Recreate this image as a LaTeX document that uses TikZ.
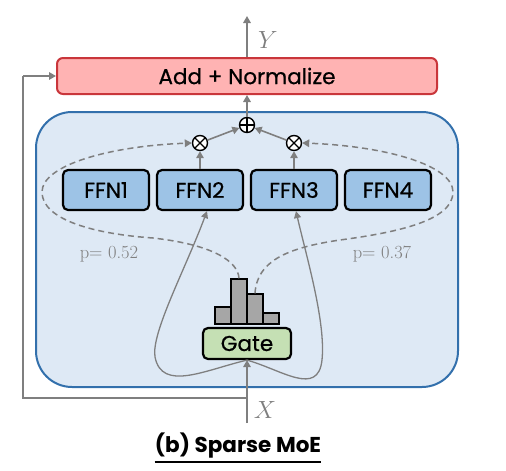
\documentclass[tikz,border=0pt]{standalone}
\usepackage{fontspec}
\newfontfamily\gothic[FakeBold=0.6]{Poppins}
\newfontfamily\gothicbold{Poppins}
\usetikzlibrary{arrows.meta,calc}
\definecolor{arrgray}{HTML}{7F7F7F}
\definecolor{addfill}{HTML}{FFB3B3}
\definecolor{adddraw}{HTML}{C9363B}
\definecolor{moefill}{HTML}{DEE9F5}
\definecolor{moedraw}{HTML}{3370AC}
\definecolor{ffnfill}{HTML}{9DC3E6}
\definecolor{gatefill}{HTML}{C5E0B4}
\definecolor{barfill}{HTML}{A6A6A6}
\begin{document}
\begin{tikzpicture}[x=1pt,y=-1pt,
  arr/.style={draw=arrgray,line width=1.6pt,-{Triangle[length=7pt,width=7.5pt]}},
  plainline/.style={draw=arrgray,line width=1.6pt},
  dashedarr/.style={draw=arrgray,line width=1.5pt,dash pattern=on 6pt off 4pt,-{Triangle[length=7pt,width=7.5pt]}},
  curvearr/.style={draw=arrgray,line width=1.3pt,-{Triangle[length=7pt,width=7pt]}},
  boxfont/.style={font=\gothic\fontsize{21.5}{21.5}\selectfont},
  ffnbox/.style={draw=black,fill=ffnfill,line width=2.2pt,rounded corners=5pt,minimum width=86pt,minimum height=40pt,inner sep=0pt,boxfont},
  barbox/.style={draw=black,fill=barfill,line width=1.4pt,inner sep=0pt,minimum width=16pt},
  opcircle/.style={circle,draw=black,fill=white,line width=1.4pt,minimum size=15pt,inner sep=0pt},
  varlabel/.style={text=arrgray,font=\fontsize{24}{24}\selectfont},
  plabel/.style={text=arrgray,font=\fontsize{18.5}{18.5}\selectfont}
]
\useasboundingbox (0,0) rectangle (506,471);
% big MoE container
\node[draw=moedraw,fill=moefill,line width=2pt,rounded corners=36pt,minimum width=422pt,minimum height=275pt,inner sep=0pt] (moe) at (247,249.5) {};
% Add + Normalize
\node[draw=adddraw,fill=addfill,line width=2pt,rounded corners=6pt,minimum width=380pt,minimum height=36pt,inner sep=0pt,boxfont] (add) at (247,76) {Add + Normalize};
% experts
\node[ffnbox] (ffn1) at (106,190) {FFN1};
\node[ffnbox] (ffn2) at (200,190) {FFN2};
\node[ffnbox] (ffn3) at (294,190) {FFN3};
\node[ffnbox] (ffn4) at (388,190) {FFN4};
% gate
\node[draw=black,fill=gatefill,line width=2.2pt,rounded corners=5pt,minimum width=88pt,minimum height=31pt,inner sep=0pt,boxfont] (gate) at (247,343.5) {Gate};
% histogram
\node[barbox,minimum height=17pt] (bar1) at (223,315.5) {};
\node[barbox,minimum height=45pt] (bar2) at (239,301.5) {};
\node[barbox,minimum height=30pt] (bar3) at (255,309) {};
\node[barbox,minimum height=11pt] (bar4) at (271,318.5) {};
% operators
\node[opcircle,path picture={\draw[line width=1.3pt] (path picture bounding box.north) -- (path picture bounding box.south) (path picture bounding box.west) -- (path picture bounding box.east);}] (oplus) at (247,125) {};
\node[opcircle,path picture={\draw[line width=1.3pt] (path picture bounding box.north west) -- (path picture bounding box.south east) (path picture bounding box.north east) -- (path picture bounding box.south west);}] (ot1) at (200,143) {};
\node[opcircle,path picture={\draw[line width=1.3pt] (path picture bounding box.north west) -- (path picture bounding box.south east) (path picture bounding box.north east) -- (path picture bounding box.south west);}] (ot2) at (294,143) {};
% labels
\node[varlabel] (ylab) at (268,40) {$Y$};
\node[varlabel] (xlab) at (265,410) {$X$};
\node[plabel] (p1) at (109,254) {p= 0.52};
\node[plabel] (p2) at (382,254) {p= 0.37};
\node[inner sep=0pt,font=\gothicbold\bfseries\fontsize{21.5}{21.5}\selectfont] (title) at (238,446) {(b) Sparse MoE};
\draw[line width=1.8pt] ([yshift=-9pt]title.base west) -- ([yshift=-9pt]title.base east);
% coordinates
\coordinate (xin) at (247,423);
\coordinate (yout) at (247,16);
\coordinate (skipstart) at (247,398);
\coordinate (skipa) at (23,398);
\coordinate (skipb) at (23,76);
% connectors
\draw[arr] (xin) -- (gate.south);
\draw[plainline] (skipstart) -- (skipa) -- (skipb);
\draw[arr] (skipb) -- (add.west);
\draw[arr] (add.north) -- (yout);
\draw[arr] (oplus.north) -- (add.south);
\draw[arr] (ot1) -- (oplus);
\draw[arr] (ot2) -- (oplus);
\draw[arr] (ffn2.north) -- (ot1.south);
\draw[arr] (ffn3.north) -- (ot2.south);
\draw[curvearr] (gate.south) .. controls (205,370) and (162,392) .. (155,357) .. controls (151,333) and (185,270) .. ([xshift=7pt]ffn2.south);
\draw[curvearr] (gate.south) .. controls (282,370) and (318,397) .. (322,360) .. controls (326,322) and (306,255) .. ([xshift=2pt]ffn3.south);
\draw[dashedarr] (bar2.north) .. controls (238,262) and (215,245) .. (153,238) .. controls (95,234) and (42,220) .. (42,192) .. controls (42,165) and (110,146) .. (ot1.west);
\draw[dashedarr] (bar3.north) .. controls (257,262) and (285,248) .. (340,240) .. controls (400,232) and (453,220) .. (453,192) .. controls (453,165) and (385,146) .. (ot2.east);
\end{tikzpicture}
\end{document}
